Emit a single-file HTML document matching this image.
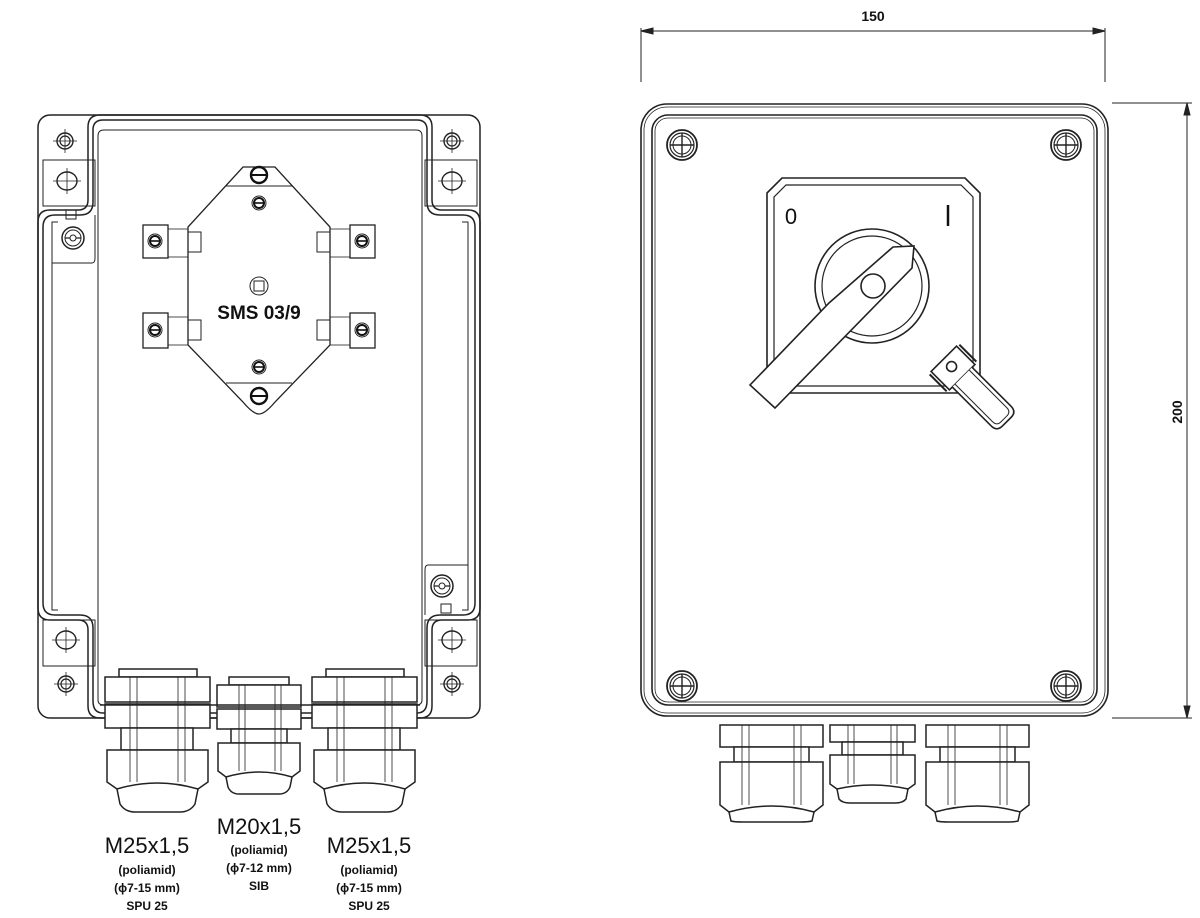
<!DOCTYPE html>
<html><head><meta charset="utf-8"><style>
html,body{margin:0;padding:0;background:#fff}
svg{display:block}
text{font-family:"Liberation Sans",Arial,sans-serif;fill:#111}
</style></head><body>
<svg width="1200" height="918" viewBox="0 0 1200 918" xmlns="http://www.w3.org/2000/svg">
<defs>
<g id="hole"><circle r="8" fill="none" stroke="#222" stroke-width="1.4"/><circle r="5" fill="none" stroke="#222" stroke-width="1.2"/><path d="M-12 0H12M0-12V12" stroke="#222" stroke-width="0.8"/></g>
<g id="hole2"><ellipse rx="10" ry="9" fill="none" stroke="#222" stroke-width="1.4"/><path d="M-14 0H14M0-13V13" stroke="#222" stroke-width="0.8"/></g>
<g id="lock"><circle r="11" fill="none" stroke="#222" stroke-width="1.5"/><circle r="8" fill="none" stroke="#222" stroke-width="1"/><path d="M-8 0H-3M3 0H8" stroke="#222" stroke-width="1.3"/><circle r="3" fill="none" stroke="#222"/></g>
<g id="scr"><circle r="8" fill="#fff" stroke="#111" stroke-width="2.4"/><path d="M-8 0H8" stroke="#111" stroke-width="2"/></g>
<g id="scrS"><circle r="7" fill="none" stroke="#222" stroke-width="1"/><circle r="5" fill="#fff" stroke="#111" stroke-width="2"/><path d="M-5 0H5" stroke="#111" stroke-width="1.6"/></g>
<g id="bscr"><circle r="15" fill="none" stroke="#222" stroke-width="1.8"/><circle r="12" fill="none" stroke="#222" stroke-width="1.2"/><circle r="9" fill="none" stroke="#222" stroke-width="1"/><path d="M-12 0H12M0-12V12" stroke="#222" stroke-width="1.4"/></g>
<g id="gl25" fill="#fff" stroke="#222" stroke-width="1.5">
<rect x="14" y="0" width="78" height="8"/>
<rect x="0" y="8" width="105" height="25"/>
<rect x="0" y="35" width="105" height="24"/>
<rect x="16" y="59" width="72" height="22"/>
<path d="M2 81H103V113L93 120H12L2 113Z"/>
<path d="M12 120Q52 108 93 120L90 135Q85 143 75 143H30Q20 143 15 135Z"/>
<path d="M25 8V113M32 8V113M73 8V113M80 8V113" stroke-width="0.8"/>
</g>
<g id="gl20" fill="#fff" stroke="#222" stroke-width="1.5">
<rect x="12" y="0" width="60" height="8"/>
<rect x="0" y="8" width="84" height="22"/>
<rect x="0" y="32" width="84" height="20"/>
<rect x="14" y="52" width="56" height="14"/>
<path d="M1 66H83V94L75 100H9L1 94Z"/>
<path d="M9 100Q42 90 75 100L73 110Q70 117 62 117H22Q14 117 11 110Z"/>
<path d="M22 8V94M28 8V94M58 8V94M64 8V94" stroke-width="0.8"/>
</g>
<g id="gr25" fill="#fff" stroke="#222" stroke-width="1.5">
<rect x="0" y="0" width="103" height="22"/>
<rect x="14" y="22" width="75" height="15"/>
<path d="M0 37H103V80L94 87H9L0 80Z"/>
<path d="M9 87Q52 75 94 87L92 96Q88 97 80 97H23Q14 97 11 96Z"/>
<path d="M22 0V80M29 0V80M74 0V80M81 0V80" stroke-width="0.8"/>
</g>
<g id="gr20" fill="#fff" stroke="#222" stroke-width="1.5">
<rect x="0" y="0" width="85" height="17"/>
<rect x="12" y="17" width="61" height="13"/>
<path d="M0 30H85V59L78 64H7L0 59Z"/>
<path d="M7 64Q42 56 78 64L76 74Q73 78 65 78H20Q12 78 9 74Z"/>
<path d="M18 0V59M24 0V59M61 0V59M67 0V59" stroke-width="0.8"/>
</g>
</defs>

<!-- LEFT VIEW -->
<g fill="none" stroke="#222" stroke-width="1.5">
<rect x="38" y="115" width="442" height="603" rx="12"/>
<path d="M100 115H420Q432 115 432 127V200Q432 210 442 210H468Q480 210 480 222V608Q480 620 468 620H442Q432 620 432 630V706Q432 718 420 718H100Q88 718 88 706V630Q88 620 78 620H50Q38 620 38 608V222Q38 210 50 210H78Q88 210 88 200V127Q88 115 100 115Z"/>
<path d="M103 120H417Q427 120 427 130V202Q427 215 440 215H463Q475 215 475 227V603Q475 615 463 615H440Q427 615 427 628V701Q427 713 417 713H103Q93 713 93 701V628Q93 615 80 615H55Q43 615 43 603V227Q43 215 55 215H80Q93 215 93 202V130Q93 120 103 120Z"/>
<path d="M104 130H416Q422 130 422 136V700Q422 705 416 705H104Q98 705 98 700V136Q98 130 104 130Z" stroke-width="1"/>
<path d="M58 222H52V610H58" stroke-width="1"/>
<path d="M462 222H468V610H462" stroke-width="1"/>
<rect x="43" y="160" width="52" height="46" stroke-width="1"/>
<rect x="425" y="160" width="52" height="46" stroke-width="1"/>
<rect x="43" y="620" width="52" height="46" stroke-width="1"/>
<rect x="425" y="620" width="52" height="46" stroke-width="1"/>
<path d="M52 222V263H92Q95 263 95 258V215" stroke-width="1"/>
<path d="M468 610V565H428Q425 565 425 570V615" stroke-width="1"/>
<rect x="66" y="210" width="10" height="9" stroke-width="1"/>
<rect x="441" y="604" width="10" height="9" stroke-width="1"/>
</g>
<use href="#hole" x="65" y="141"/><use href="#hole" x="452" y="141"/>
<use href="#hole" x="66" y="684"/><use href="#hole" x="452" y="684"/>
<use href="#hole2" x="67" y="181"/><use href="#hole2" x="452" y="181"/>
<use href="#hole2" x="66" y="640"/><use href="#hole2" x="452" y="640"/>
<use href="#lock" x="73" y="238"/><use href="#lock" x="442" y="586"/>

<!-- SMS plate -->
<g fill="none" stroke="#222" stroke-width="1.3">
<path d="M243 167H275L330 227V345L275 402Q265 414 259 414Q253 414 243 402L188 345V227Z"/>
<path d="M226 186H292M226 383H292" stroke-width="1"/>
<path d="M188 232H201V252H188M330 232H317V252H330M188 320H201V340H188M330 320H317V340H330" stroke-width="1"/>
<rect x="143" y="225" width="25" height="33"/><rect x="168" y="229" width="20" height="28" stroke-width="0.8"/>
<rect x="143" y="313" width="25" height="35"/><rect x="168" y="317" width="20" height="28" stroke-width="0.8"/>
<rect x="350" y="225" width="25" height="33"/><rect x="330" y="229" width="20" height="28" stroke-width="0.8"/>
<rect x="350" y="313" width="25" height="35"/><rect x="330" y="317" width="20" height="28" stroke-width="0.8"/>
<circle cx="259" cy="286" r="9" stroke-width="1"/><rect x="254" y="281" width="10" height="10" stroke-width="1"/>
</g>
<use href="#scr" x="259" y="175"/><use href="#scr" x="259" y="396"/>
<use href="#scrS" x="259" y="203"/><use href="#scrS" x="259" y="367"/>
<use href="#scrS" x="155" y="241"/><use href="#scrS" x="155" y="330"/>
<use href="#scrS" x="362" y="241"/><use href="#scrS" x="362" y="330"/>
<text x="259" y="319" font-size="19" text-anchor="middle" font-weight="bold" style="font-weight:600">SMS 03/9</text>

<use href="#gl25" x="105" y="669"/>
<use href="#gl20" x="217" y="677"/>
<use href="#gl25" x="312" y="669"/>
<path d="M100 705H420" stroke="#222" stroke-width="1.4" fill="none"/>

<g text-anchor="middle">
<text x="147" y="853" font-size="22">M25x1,5</text>
<text x="147" y="874" font-size="12" font-weight="bold">(poliamid)</text>
<text x="147" y="892" font-size="12" font-weight="bold">(ϕ7-15 mm)</text>
<text x="147" y="910" font-size="12" font-weight="bold">SPU 25</text>
<text x="259" y="834" font-size="22">M20x1,5</text>
<text x="259" y="854" font-size="12" font-weight="bold">(poliamid)</text>
<text x="259" y="872" font-size="12" font-weight="bold">(ϕ7-12 mm)</text>
<text x="259" y="890" font-size="12" font-weight="bold">SIB</text>
<text x="369" y="853" font-size="22">M25x1,5</text>
<text x="369" y="874" font-size="12" font-weight="bold">(poliamid)</text>
<text x="369" y="892" font-size="12" font-weight="bold">(ϕ7-15 mm)</text>
<text x="369" y="910" font-size="12" font-weight="bold">SPU 25</text>
</g>

<!-- RIGHT VIEW -->
<g fill="none" stroke="#222" stroke-width="1.6">
<rect x="641" y="104" width="467" height="612" rx="26"/>
<rect x="644" y="107" width="461" height="606" rx="23" stroke-width="0.8"/>
<rect x="652" y="115" width="445" height="590" rx="16"/>
<rect x="655" y="118" width="439" height="584" rx="13" stroke-width="0.8"/>
<path d="M782 178H965L980 193V378L965 393H782L767 378V193Z"/>
<path d="M786 185H961L973 197V374L961 386H786L774 374V197Z" stroke-width="1.2"/>
<circle cx="872" cy="286" r="57"/>
<circle cx="872" cy="286" r="50" stroke-width="1.2"/>
<path d="M893 247L914 246L912 268L775 408L750 385L829 303Z" fill="#fff"/>
<circle cx="873" cy="286" r="12" fill="#fff"/>
<g transform="translate(953 368) rotate(-45)">
<rect x="-18" y="-13" width="36" height="26" fill="#fff"/>
<path d="M-14 13V68Q-14 76 -6 76H6Q14 76 14 68V13" fill="#fff"/>
<path d="M-10 13V66Q-10 72 -4 72H4Q10 72 10 66V13" stroke-width="1"/>
<path d="M-21 -12V12M21 -12V12" stroke-width="2"/>
<circle cx="0" cy="-2" r="5"/>
</g>
</g>
<text x="791" y="224" font-size="22" text-anchor="middle">0</text>
<path d="M948 205V226" stroke="#111" stroke-width="2.5"/>
<use href="#bscr" x="682" y="145"/><use href="#bscr" x="1066" y="145"/>
<use href="#bscr" x="682" y="686"/><use href="#bscr" x="1066" y="686"/>
<use href="#gr25" x="720" y="725"/>
<use href="#gr20" x="830" y="725"/>
<use href="#gr25" x="926" y="725"/>

<!-- dimensions -->
<g stroke="#222" stroke-width="1" fill="#222">
<path d="M641 28V82M1105 28V82" fill="none"/>
<path d="M641 31H1105" fill="none"/>
<path d="M641 31L653 28V34Z"/><path d="M1105 31L1093 28V34Z"/>
<path d="M1112 103H1192M1112 718H1192" fill="none"/>
<path d="M1187 103V718" fill="none"/>
<path d="M1187 103L1184 115H1190Z"/><path d="M1187 718L1184 706H1190Z"/>
</g>
<text x="873" y="21" font-size="14" text-anchor="middle" font-weight="bold">150</text>
<text x="0" y="0" font-size="14" font-weight="bold" text-anchor="middle" transform="translate(1182 412) rotate(-90)">200</text>
</svg>
</body></html>
